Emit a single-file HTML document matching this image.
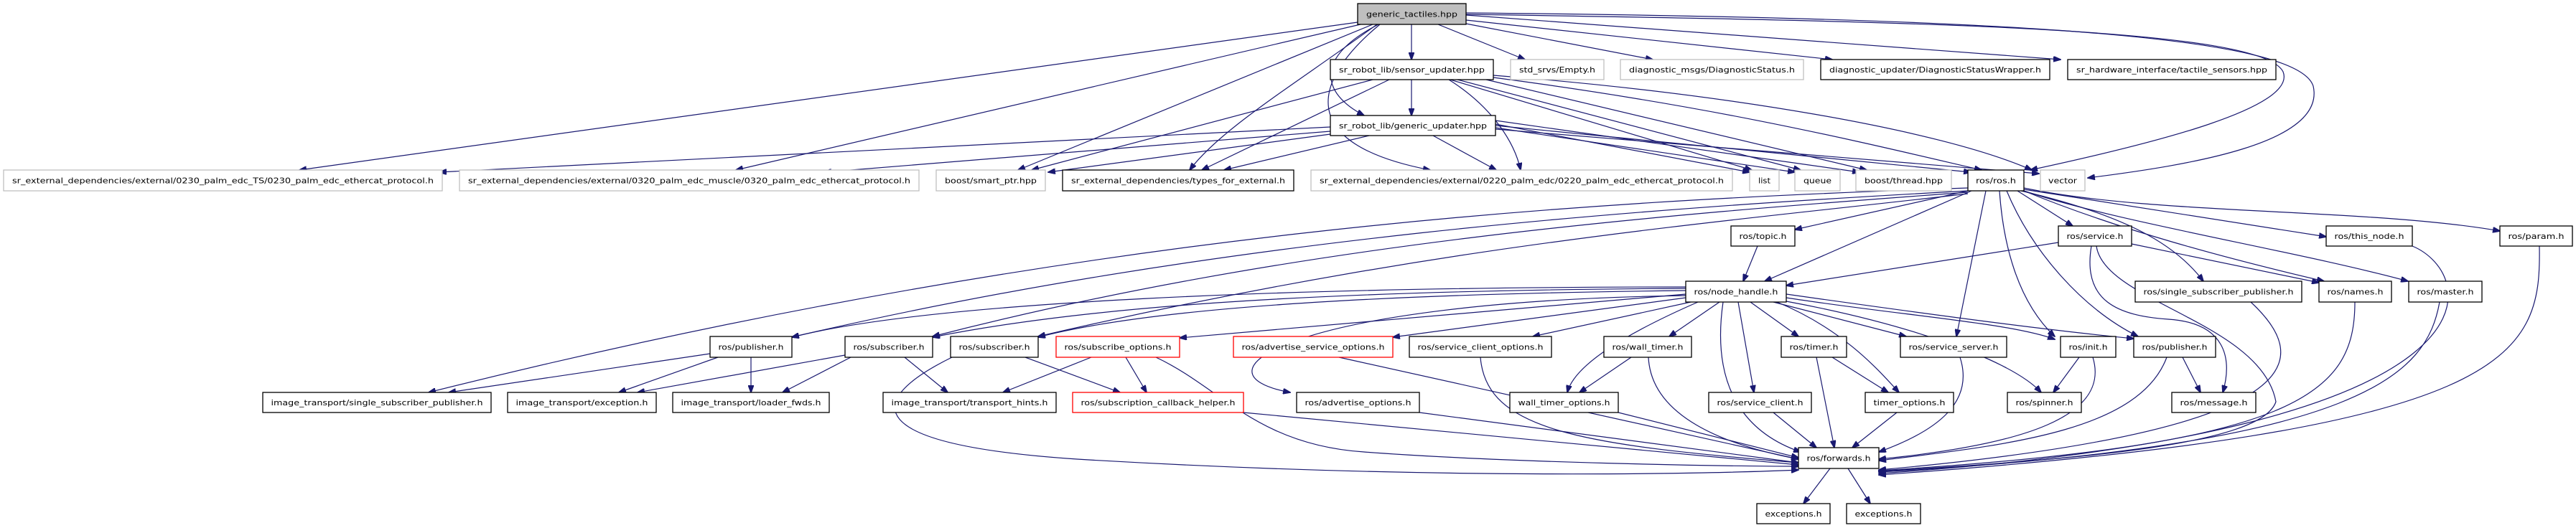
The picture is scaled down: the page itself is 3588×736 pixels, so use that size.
<!DOCTYPE html>
<html><head><meta charset="utf-8"><style>
html,body{margin:0;padding:0;background:#fff;}
svg{display:block}
text{font-family:"DejaVu Sans","Liberation Sans",sans-serif;font-size:10.5px;fill:#000}
.e{fill:none;stroke:#191970;stroke-width:1.2}
.n{fill:#fff;stroke:#000;stroke-width:1.3}
.g{fill:#fff;stroke:#bfbfbf;stroke-width:1.3}
.r{fill:#fff;stroke:#ff0000;stroke-width:1.3}
</style></head><body>
<svg width="3588" height="736" viewBox="0 0 3588 736" xmlns="http://www.w3.org/2000/svg">
<defs><marker id="a" markerWidth="11" markerHeight="8" refX="10" refY="4" orient="auto" markerUnits="userSpaceOnUse"><path d="M0,0 L11,4 L0,8 z" fill="#191970" stroke="#191970"/></marker></defs>
<g class="e" marker-end="url(#a)">
<!-- generic_tactiles -->
<path d="M1891,31 L417,237"/>
<path d="M1895,34 L1025,237"/>
<path d="M1912,34 L1418,237"/>
<path d="M1918,34 C1800,120 1700,180 1657,237"/>
<path d="M1922,34 C1830,110 1800,200 1992,237"/>
<path d="M1966,34 L1966,83"/>
<path d="M1920,34 C1830,80 1840,130 1900,161"/>
<path d="M2003,34 L2124,83"/>
<path d="M2042,33 L2302,83"/>
<path d="M2042,28 L2552,83"/>
<path d="M2042,21 L2870,83"/>
<path d="M2042,20 C2700,30 3150,40 3180,100 C3200,150 3000,200 2828,237"/>
<path d="M2042,18 C2800,25 3200,50 3222,120 C3240,200 3050,230 2908,248"/>
<!-- sensor_updater -->
<path d="M1912,111 L1437,237"/>
<path d="M1935,111 L1674,237"/>
<path d="M1966,111 L1966,161"/>
<path d="M2018,111 C2080,150 2110,200 2118,237"/>
<path d="M2020,111 L2440,237"/>
<path d="M2030,111 L2508,237"/>
<path d="M2070,111 L2600,237"/>
<path d="M2080,108 C2400,150 2600,200 2760,237"/>
<path d="M2080,105 C2400,130 2700,180 2830,237"/>
<!-- generic_updater -->
<path d="M1853,177 L612,240"/>
<path d="M1853,183 L1148,240"/>
<path d="M1853,187 L1460,240"/>
<path d="M1907,189 L1705,237"/>
<path d="M1996,189 L2084,237"/>
<path d="M2083,173 L2437,240"/>
<path d="M2083,178 L2500,240"/>
<path d="M2083,168 L2590,240"/>
<path d="M2083,175 L2745,240"/>
<path d="M2083,180 L2840,242"/>
<!-- ros.h -->
<path d="M2741,266 L2500,320"/>
<path d="M2746,266 L2458,392"/>
<path d="M2810,266 L2887,315"/>
<path d="M2819,264 L3240,330"/>
<path d="M2819,262 C3000,300 3300,290 3482,322"/>
<path d="M2815,266 C2960,300 3030,340 3069,392"/>
<path d="M2819,266 C2950,320 3100,360 3237,392"/>
<path d="M2819,266 C2950,310 3200,350 3354,392"/>
<path d="M2785,266 C2790,340 2810,420 2862,469"/>
<path d="M2795,266 C2830,350 2900,430 2978,469"/>
<path d="M2766,266 L2725,469"/>
<path d="M2741,262 C2200,280 1500,320 597,547"/>
<path d="M2741,266 C2300,290 1700,330 1103,470"/>
<path d="M2741,268 C2300,300 1800,340 1299,469"/>
<path d="M2741,270 C2400,310 2000,340 1446,469"/>
<!-- topic / service / etc -->
<path d="M2448,343 L2428,392"/>
<path d="M2867,338 L2488,398"/>
<path d="M2969,340 L3230,394"/>
<path d="M2913,343 C2900,420 2950,440 3020,445 C3100,450 3110,500 3096,547"/>
<path d="M2920,343 C2930,420 3150,450 3170,560 C3150,620 2900,640 2617,657"/>
<path d="M3360,343 C3450,380 3520,600 2617,660"/>
<path d="M3537,343 C3540,500 3500,600 2617,662"/>
<path d="M3135,421 C3220,500 3230,600 2617,655"/>
<path d="M3280,421 C3280,550 3200,620 2617,656"/>
<path d="M3398,421 C3380,520 3300,620 2617,658"/>
<!-- node_handle -->
<path d="M2348,400 C1800,400 1300,420 1103,470"/>
<path d="M2348,402 C1800,405 1500,430 1299,470"/>
<path d="M2348,405 C1900,410 1600,430 1446,470"/>
<path d="M2348,410 L1643,471"/>
<path d="M2348,415 L1940,470"/>
<path d="M2355,421 L2135,469"/>
<path d="M2395,421 L2325,469"/>
<path d="M2348,412 C1800,420 1650,520 1797,547"/>
<path d="M2365,421 C2230,480 2190,520 2183,547"/>
<path d="M2438,421 L2505,469"/>
<path d="M2470,421 L2655,469"/>
<path d="M2488,415 C2650,440 2800,450 2862,473"/>
<path d="M2488,410 C2700,440 2850,460 2972,472"/>
<path d="M2488,420 C2650,450 2800,500 2843,547"/>
<path d="M2475,421 C2570,460 2620,520 2645,547"/>
<path d="M2421,421 L2443,547"/>
<path d="M2400,421 C2380,560 2450,610 2508,630"/>
<!-- row6 -->
<path d="M989,493 L625,547"/>
<path d="M1000,498 L862,547"/>
<path d="M1046,498 L1046,547"/>
<path d="M1177,495 L888,547"/>
<path d="M1185,498 L1090,547"/>
<path d="M1260,498 L1320,547"/>
<path d="M1428,498 L1560,547"/>
<path d="M1326,498 C1200,560 1200,620 1500,640 C2000,670 2400,660 2505,655"/>
<path d="M1520,498 L1397,547"/>
<path d="M1568,498 L1597,547"/>
<path d="M1610,498 C1700,540 1750,620 1900,630 C2100,645 2400,650 2505,650"/>
<path d="M1865,498 L2505,640"/>
<path d="M2062,498 C2070,600 2200,620 2505,645"/>
<path d="M2272,498 L2200,547"/>
<path d="M2296,498 C2300,580 2400,620 2505,640"/>
<path d="M2552,498 L2630,547"/>
<path d="M2530,498 L2555,624"/>
<path d="M2730,498 C2750,560 2700,600 2617,630"/>
<path d="M2896,498 L2860,547"/>
<path d="M2915,498 C2940,580 2820,620 2617,640"/>
<path d="M3040,498 L3065,547"/>
<path d="M3018,498 C2980,600 2800,620 2617,642"/>
<!-- row7 -->
<path d="M1732,575 L2505,648"/>
<path d="M1977,575 L2505,645"/>
<path d="M2254,575 L2505,638"/>
<path d="M2470,575 L2530,624"/>
<path d="M2642,575 L2580,624"/>
<path d="M2549,653 L2512,702"/>
<path d="M2574,653 L2605,702"/>
</g>
<g>
<rect x="1891" y="5" width="151" height="29" fill="#bfbfbf" stroke="#000" stroke-width="1.3"/><text x="1966.5" y="23.5" text-anchor="middle" textLength="127" lengthAdjust="spacingAndGlyphs">generic_tactiles.hpp</text>
<rect class="n" x="1853" y="83" width="227" height="28"/><text x="1966.5" y="101" text-anchor="middle" textLength="203" lengthAdjust="spacingAndGlyphs">sr_robot_lib/sensor_updater.hpp</text>
<rect class="g" x="2104" y="83" width="130" height="28"/><text x="2169" y="101" text-anchor="middle" textLength="106" lengthAdjust="spacingAndGlyphs">std_srvs/Empty.h</text>
<rect class="g" x="2257" y="83" width="255" height="28"/><text x="2384.5" y="101" text-anchor="middle" textLength="231" lengthAdjust="spacingAndGlyphs">diagnostic_msgs/DiagnosticStatus.h</text>
<rect class="n" x="2536" y="83" width="319" height="28"/><text x="2695.5" y="101" text-anchor="middle" textLength="295" lengthAdjust="spacingAndGlyphs">diagnostic_updater/DiagnosticStatusWrapper.h</text>
<rect class="n" x="2880" y="83" width="290" height="28"/><text x="3025" y="101" text-anchor="middle" textLength="266" lengthAdjust="spacingAndGlyphs">sr_hardware_interface/tactile_sensors.hpp</text>
<rect class="n" x="1853" y="161" width="230" height="28"/><text x="1968" y="179" text-anchor="middle" textLength="206" lengthAdjust="spacingAndGlyphs">sr_robot_lib/generic_updater.hpp</text>
<rect class="g" x="5" y="237" width="611" height="29"/><text x="310.5" y="255.5" text-anchor="middle" textLength="587" lengthAdjust="spacingAndGlyphs">sr_external_dependencies/external/0230_palm_edc_TS/0230_palm_edc_ethercat_protocol.h</text>
<rect class="g" x="640" y="237" width="640" height="29"/><text x="960" y="255.5" text-anchor="middle" textLength="616" lengthAdjust="spacingAndGlyphs">sr_external_dependencies/external/0320_palm_edc_muscle/0320_palm_edc_ethercat_protocol.h</text>
<rect class="g" x="1304" y="237" width="152" height="29"/><text x="1380" y="255.5" text-anchor="middle" textLength="128" lengthAdjust="spacingAndGlyphs">boost/smart_ptr.hpp</text>
<rect class="n" x="1480" y="237" width="322" height="29"/><text x="1641" y="255.5" text-anchor="middle" textLength="298" lengthAdjust="spacingAndGlyphs">sr_external_dependencies/types_for_external.h</text>
<rect class="g" x="1826" y="237" width="587" height="29"/><text x="2119.5" y="255.5" text-anchor="middle" textLength="563" lengthAdjust="spacingAndGlyphs">sr_external_dependencies/external/0220_palm_edc/0220_palm_edc_ethercat_protocol.h</text>
<rect class="g" x="2437" y="237" width="41" height="29"/><text x="2457.5" y="255.5" text-anchor="middle" textLength="17" lengthAdjust="spacingAndGlyphs">list</text>
<rect class="g" x="2500" y="237" width="63" height="29"/><text x="2531.5" y="255.5" text-anchor="middle" textLength="39" lengthAdjust="spacingAndGlyphs">queue</text>
<rect class="g" x="2585" y="237" width="133" height="29"/><text x="2651.5" y="255.5" text-anchor="middle" textLength="109" lengthAdjust="spacingAndGlyphs">boost/thread.hpp</text>
<rect class="n" x="2741" y="237" width="78" height="29"/><text x="2780" y="255.5" text-anchor="middle" textLength="56" lengthAdjust="spacingAndGlyphs">ros/ros.h</text>
<rect class="g" x="2842" y="237" width="62" height="29"/><text x="2873" y="255.5" text-anchor="middle" textLength="40" lengthAdjust="spacingAndGlyphs">vector</text>
<rect class="n" x="2411" y="315" width="89" height="28"/><text x="2455.5" y="333" text-anchor="middle" textLength="66" lengthAdjust="spacingAndGlyphs">ros/topic.h</text>
<rect class="n" x="2867" y="315" width="102" height="28"/><text x="2918" y="333" text-anchor="middle" textLength="79" lengthAdjust="spacingAndGlyphs">ros/service.h</text>
<rect class="n" x="3240" y="315" width="120" height="28"/><text x="3300" y="333" text-anchor="middle" textLength="97" lengthAdjust="spacingAndGlyphs">ros/this_node.h</text>
<rect class="n" x="3482" y="315" width="101" height="28"/><text x="3532.5" y="333" text-anchor="middle" textLength="78" lengthAdjust="spacingAndGlyphs">ros/param.h</text>
<rect class="n" x="2348" y="392" width="140" height="29"/><text x="2418" y="410.5" text-anchor="middle" textLength="117" lengthAdjust="spacingAndGlyphs">ros/node_handle.h</text>
<rect class="n" x="2974" y="392" width="232" height="29"/><text x="3090" y="410.5" text-anchor="middle" textLength="209" lengthAdjust="spacingAndGlyphs">ros/single_subscriber_publisher.h</text>
<rect class="n" x="3230" y="392" width="101" height="29"/><text x="3280.5" y="410.5" text-anchor="middle" textLength="78" lengthAdjust="spacingAndGlyphs">ros/names.h</text>
<rect class="n" x="3355" y="392" width="102" height="29"/><text x="3406" y="410.5" text-anchor="middle" textLength="79" lengthAdjust="spacingAndGlyphs">ros/master.h</text>
<rect class="n" x="989" y="469" width="114" height="29"/><text x="1046" y="487.5" text-anchor="middle" textLength="91" lengthAdjust="spacingAndGlyphs">ros/publisher.h</text>
<rect class="n" x="1177" y="469" width="122" height="29"/><text x="1238" y="487.5" text-anchor="middle" textLength="99" lengthAdjust="spacingAndGlyphs">ros/subscriber.h</text>
<rect class="n" x="1324" y="469" width="122" height="29"/><text x="1385" y="487.5" text-anchor="middle" textLength="99" lengthAdjust="spacingAndGlyphs">ros/subscriber.h</text>
<rect class="r" x="1471" y="469" width="172" height="29"/><text x="1557" y="487.5" text-anchor="middle" textLength="149" lengthAdjust="spacingAndGlyphs">ros/subscribe_options.h</text>
<rect class="r" x="1718" y="469" width="222" height="29"/><text x="1829" y="487.5" text-anchor="middle" textLength="199" lengthAdjust="spacingAndGlyphs">ros/advertise_service_options.h</text>
<rect class="n" x="1963" y="469" width="198" height="29"/><text x="2062" y="487.5" text-anchor="middle" textLength="175" lengthAdjust="spacingAndGlyphs">ros/service_client_options.h</text>
<rect class="n" x="2234" y="469" width="122" height="29"/><text x="2295" y="487.5" text-anchor="middle" textLength="99" lengthAdjust="spacingAndGlyphs">ros/wall_timer.h</text>
<rect class="n" x="2481" y="469" width="91" height="29"/><text x="2526.5" y="487.5" text-anchor="middle" textLength="68" lengthAdjust="spacingAndGlyphs">ros/timer.h</text>
<rect class="n" x="2647" y="469" width="148" height="29"/><text x="2721" y="487.5" text-anchor="middle" textLength="125" lengthAdjust="spacingAndGlyphs">ros/service_server.h</text>
<rect class="n" x="2870" y="469" width="77" height="29"/><text x="2908.5" y="487.5" text-anchor="middle" textLength="54" lengthAdjust="spacingAndGlyphs">ros/init.h</text>
<rect class="n" x="2972" y="469" width="114" height="29"/><text x="3029" y="487.5" text-anchor="middle" textLength="91" lengthAdjust="spacingAndGlyphs">ros/publisher.h</text>
<rect class="n" x="366" y="547" width="318" height="28"/><text x="525" y="565" text-anchor="middle" textLength="295" lengthAdjust="spacingAndGlyphs">image_transport/single_subscriber_publisher.h</text>
<rect class="n" x="707" y="547" width="207" height="28"/><text x="810.5" y="565" text-anchor="middle" textLength="184" lengthAdjust="spacingAndGlyphs">image_transport/exception.h</text>
<rect class="n" x="937" y="547" width="218" height="28"/><text x="1046" y="565" text-anchor="middle" textLength="195" lengthAdjust="spacingAndGlyphs">image_transport/loader_fwds.h</text>
<rect class="n" x="1230" y="547" width="241" height="28"/><text x="1350.5" y="565" text-anchor="middle" textLength="218" lengthAdjust="spacingAndGlyphs">image_transport/transport_hints.h</text>
<rect class="r" x="1494" y="547" width="238" height="28"/><text x="1613" y="565" text-anchor="middle" textLength="215" lengthAdjust="spacingAndGlyphs">ros/subscription_callback_helper.h</text>
<rect class="n" x="1806" y="547" width="171" height="28"/><text x="1891.5" y="565" text-anchor="middle" textLength="148" lengthAdjust="spacingAndGlyphs">ros/advertise_options.h</text>
<rect class="n" x="2103" y="547" width="151" height="28"/><text x="2178.5" y="565" text-anchor="middle" textLength="128" lengthAdjust="spacingAndGlyphs">wall_timer_options.h</text>
<rect class="n" x="2380" y="547" width="143" height="28"/><text x="2451.5" y="565" text-anchor="middle" textLength="120" lengthAdjust="spacingAndGlyphs">ros/service_client.h</text>
<rect class="n" x="2598" y="547" width="123" height="28"/><text x="2659.5" y="565" text-anchor="middle" textLength="100" lengthAdjust="spacingAndGlyphs">timer_options.h</text>
<rect class="n" x="2796" y="547" width="103" height="28"/><text x="2847.5" y="565" text-anchor="middle" textLength="80" lengthAdjust="spacingAndGlyphs">ros/spinner.h</text>
<rect class="n" x="3025" y="547" width="117" height="28"/><text x="3083.5" y="565" text-anchor="middle" textLength="94" lengthAdjust="spacingAndGlyphs">ros/message.h</text>
<rect class="n" x="2505" y="624" width="112" height="29"/><text x="2561" y="642.5" text-anchor="middle" textLength="89" lengthAdjust="spacingAndGlyphs">ros/forwards.h</text>
<rect class="n" x="2447" y="702" width="102" height="28"/><text x="2498" y="720" text-anchor="middle" textLength="79" lengthAdjust="spacingAndGlyphs">exceptions.h</text>
<rect class="n" x="2572" y="702" width="103" height="28"/><text x="2623.5" y="720" text-anchor="middle" textLength="80" lengthAdjust="spacingAndGlyphs">exceptions.h</text>
</g>
</svg>
</body></html>
